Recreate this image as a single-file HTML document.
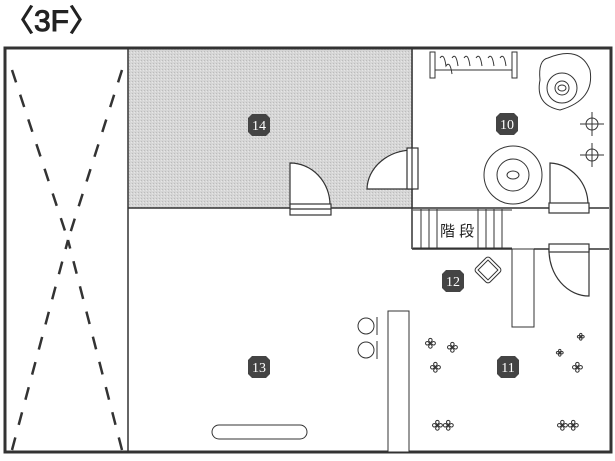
<!DOCTYPE html><html><head><style>body{margin:0;background:#fff}svg{display:block}</style></head><body>
<svg width="615" height="461" viewBox="0 0 615 461" xmlns="http://www.w3.org/2000/svg">
<defs><pattern id="g" width="3" height="3" patternUnits="userSpaceOnUse"><rect width="3" height="3" fill="#d6d6d6"/><rect width="1" height="1" fill="#bcbcbc"/><rect x="2" y="1" width="1" height="1" fill="#e6e6e6"/></pattern></defs>
<text x="4" y="31" font-family="Liberation Sans,sans-serif" font-size="30" fill="#222" stroke="#222" stroke-width="1">〈3F〉</text>
<rect x="128" y="48" width="285" height="160" fill="url(#g)"/>
<g stroke="#333" fill="none">
<path d="M5 48 H611 V452 H5 Z" stroke-width="3"/>
<path d="M128 48 V452 M128 208 H412 M412 48 V249 M412 208 H609 M412 249 H512 M534 249 H609" stroke-width="1.5"/>
<path d="M12 70 L68 240 M122 70 L68 240 M12 450 L68 240 M122 450 L68 240" stroke-width="2.5" stroke-dasharray="13 13"/>
<rect x="512" y="249" width="22" height="78" fill="#fff"/>
<rect x="388" y="311" width="21" height="141" fill="#fff"/>
</g>
<g stroke="#333" stroke-width="1.2" fill="#fff">
<path d="M290 163 V205 H330 A40 42 0 0 0 290 163Z"/><rect x="290" y="204" width="41" height="11"/><line x1="290" y1="209" x2="331" y2="209"/>
<path d="M413 150 V189 H367 A46 40 0 0 1 413 150Z"/><rect x="407" y="148" width="11" height="41"/><line x1="412" y1="148" x2="412" y2="189"/>
<path d="M550 163 V205 H588 A40 42 0 0 0 550 163Z"/><rect x="549" y="203" width="40" height="10"/>
<path d="M549 250 A40 46 0 0 0 589 296 V250Z"/><rect x="549" y="244" width="40" height="8"/>
</g>
<g stroke="#333" stroke-width="1" fill="none">
<path d="M413 210 H512 M413 248 H512"/>
<path d="M421 209 V248 M429 209 V248 M437 209 V248 M478 209 V248 M486 209 V248 M494 209 V248 M502 209 V248"/>
<rect x="430" y="52" width="5" height="26"/><rect x="512" y="52" width="5" height="26"/>
<path d="M435 70 H512"/>
<path d="M440 58 q4 -6 6 8 q4 -6 6 8 M452 58 q4 -6 6 8 M464 58 q4 -6 6 8 M476 58 q4 -6 6 8 M488 58 q4 -6 6 8 M500 58 q4 -6 6 8"/>
<path d="M548 58 Q580 45 590 70 Q595 100 560 110 Q535 105 540 80 Q538 60 548 58Z"/>
<circle cx="562" cy="88" r="15"/><circle cx="562" cy="88" r="7"/><ellipse cx="562" cy="88" rx="4" ry="3"/>
<circle cx="513" cy="175" r="29"/><circle cx="513" cy="175" r="16"/><ellipse cx="513" cy="175" rx="6" ry="4"/>
<circle cx="592" cy="124" r="6"/><circle cx="592" cy="155" r="6"/>
<path d="M580 124 H604 M592 112 V136 M580 155 H604 M592 143 V167"/>
<g transform="rotate(-45 488 270)"><rect x="478" y="260" width="20" height="20" rx="3"/><rect x="481" y="263" width="14" height="14"/></g>
<circle cx="366" cy="326" r="8"/><circle cx="366" cy="350" r="8"/><path d="M377 317 V335 M377 341 V359"/>
<rect x="212" y="425" width="95" height="14" rx="7"/>
</g>
<g font-family="DejaVu Sans,sans-serif" font-size="13" fill="#fff" stroke="#333" stroke-width="1">
<text x="425" y="348" fill="none">✤</text><text x="447" y="352" fill="none">✤</text><text x="430" y="372" fill="none">✤</text>
<text x="432" y="430" fill="none">✤✤</text><text x="572" y="372" fill="none">✤</text><text x="557" y="430" fill="none">✤✤</text>
<text x="577" y="340" font-size="9" fill="none">✤</text><text x="556" y="356" font-size="9" fill="none">✤</text>
</g>
<text x="440" y="236" font-family="Liberation Sans,Noto Sans CJK JP,sans-serif" font-size="15" fill="#222">階 段</text>
<g font-family="Liberation Serif,serif" font-size="14" fill="#fff" text-anchor="middle">
<g transform="translate(259,125)"><polygon points="-7,-11 7,-11 11,-7 11,7 7,11 -7,11 -11,7 -11,-7" fill="#444"/><text y="5">14</text></g>
<g transform="translate(507,124)"><polygon points="-7,-11 7,-11 11,-7 11,7 7,11 -7,11 -11,7 -11,-7" fill="#444"/><text y="5">10</text></g>
<g transform="translate(453,281)"><polygon points="-7,-11 7,-11 11,-7 11,7 7,11 -7,11 -11,7 -11,-7" fill="#444"/><text y="5">12</text></g>
<g transform="translate(508,367)"><polygon points="-7,-11 7,-11 11,-7 11,7 7,11 -7,11 -11,7 -11,-7" fill="#444"/><text y="5">11</text></g>
<g transform="translate(259,367)"><polygon points="-7,-11 7,-11 11,-7 11,7 7,11 -7,11 -11,7 -11,-7" fill="#444"/><text y="5">13</text></g>
</g>
</svg></body></html>
